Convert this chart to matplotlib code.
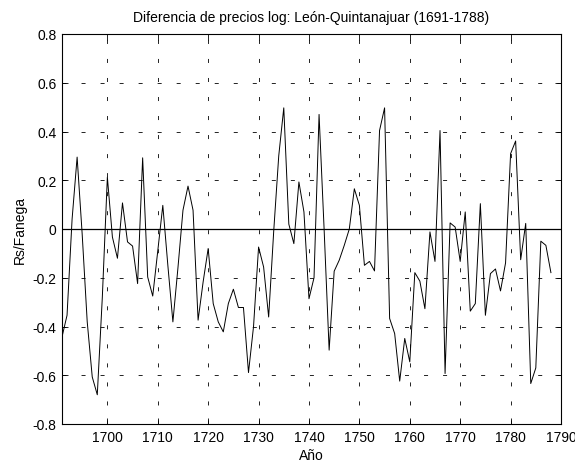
import matplotlib
matplotlib.use("Agg")
import matplotlib.pyplot as plt
import numpy as np

plt.rcParams['font.family'] = ['Liberation Sans', 'DejaVu Sans']
plt.rcParams['axes.unicode_minus'] = False

years = list(range(1691, 1789))
values = [
    -0.443, -0.354, 0.04, 0.295, -0.02, -0.38, -0.607, -0.68, -0.28,   # 1691-1699
    0.213, -0.033, -0.12, 0.107, -0.053, -0.07, -0.224, 0.292, -0.197, -0.275,  # 1700-1709
    -0.09, 0.097, -0.149, -0.381, -0.16, 0.077, 0.176, 0.077, -0.374, -0.217,  # 1710-1719
    -0.08, -0.306, -0.381, -0.422, -0.306, -0.247, -0.322, -0.322, -0.589, -0.40,  # 1720-1729
    -0.074, -0.156, -0.361, -0.01, 0.30, 0.497, 0.02, -0.06, 0.193, 0.07,  # 1730-1739
    -0.286, -0.20, 0.47, 0.0, -0.497, -0.173, -0.128, -0.067, 0.0, 0.165,  # 1740-1749
    0.097, -0.149, -0.133, -0.172, 0.404, 0.497, -0.367, -0.429, -0.624, -0.449,  # 1750-1759
    -0.545, -0.179, -0.214, -0.327, -0.012, -0.133, 0.404, -0.593, 0.025, 0.008,  # 1760-1769
    -0.133, 0.07, -0.337, -0.306, 0.104, -0.354, -0.183, -0.164, -0.254, -0.139,  # 1770-1779
    0.309, 0.361, -0.126, 0.023, -0.634, -0.57, -0.05, -0.067, -0.179,  # 1780-1788
]

xticks = [1700, 1710, 1720, 1730, 1740, 1750, 1760, 1770, 1780, 1790]
yticks = [-0.8, -0.6, -0.4, -0.2, 0, 0.2, 0.4, 0.6, 0.8]
ytick_labels = ['-0.8', '-0.6', '-0.4', '-0.2', '0', '0.2', '0.4', '0.6', '0.8']

title = 'Diferencia de precios log: León-Quintanajuar (1691-1788)'
xlabel = 'Año'
ylabel = 'Rs/Fanega'

fig = plt.figure(figsize=(5.75, 4.64), dpi=100)
ax = fig.add_axes([62/575, 1-425/464, (561-62)/575, (425-35)/464])

ax.plot(years, values, color='black', lw=0.7)
ax.axhline(0, color='black', lw=0.9)

ax.set_xlim(1691, 1790)
ax.set_ylim(-0.8, 0.8)
ax.set_xticks(xticks)
ax.set_yticks(yticks)
ax.set_yticklabels(ytick_labels)

glw = 0.6
ax.grid(True, color='black', lw=glw, linestyle=(0, (2.9/glw, 10.8/glw)))
ax.tick_params(direction='in', top=True, right=True, length=4, width=0.6,
               labelsize=10, pad=4)
for s in ax.spines.values():
    s.set_linewidth(0.8)

ax.set_title(title, fontsize=10, pad=9)
ax.set_xlabel(xlabel, fontsize=10, labelpad=3)
ax.set_ylabel(ylabel, fontsize=10, labelpad=4)

fig.savefig('out.png', dpi=100)
